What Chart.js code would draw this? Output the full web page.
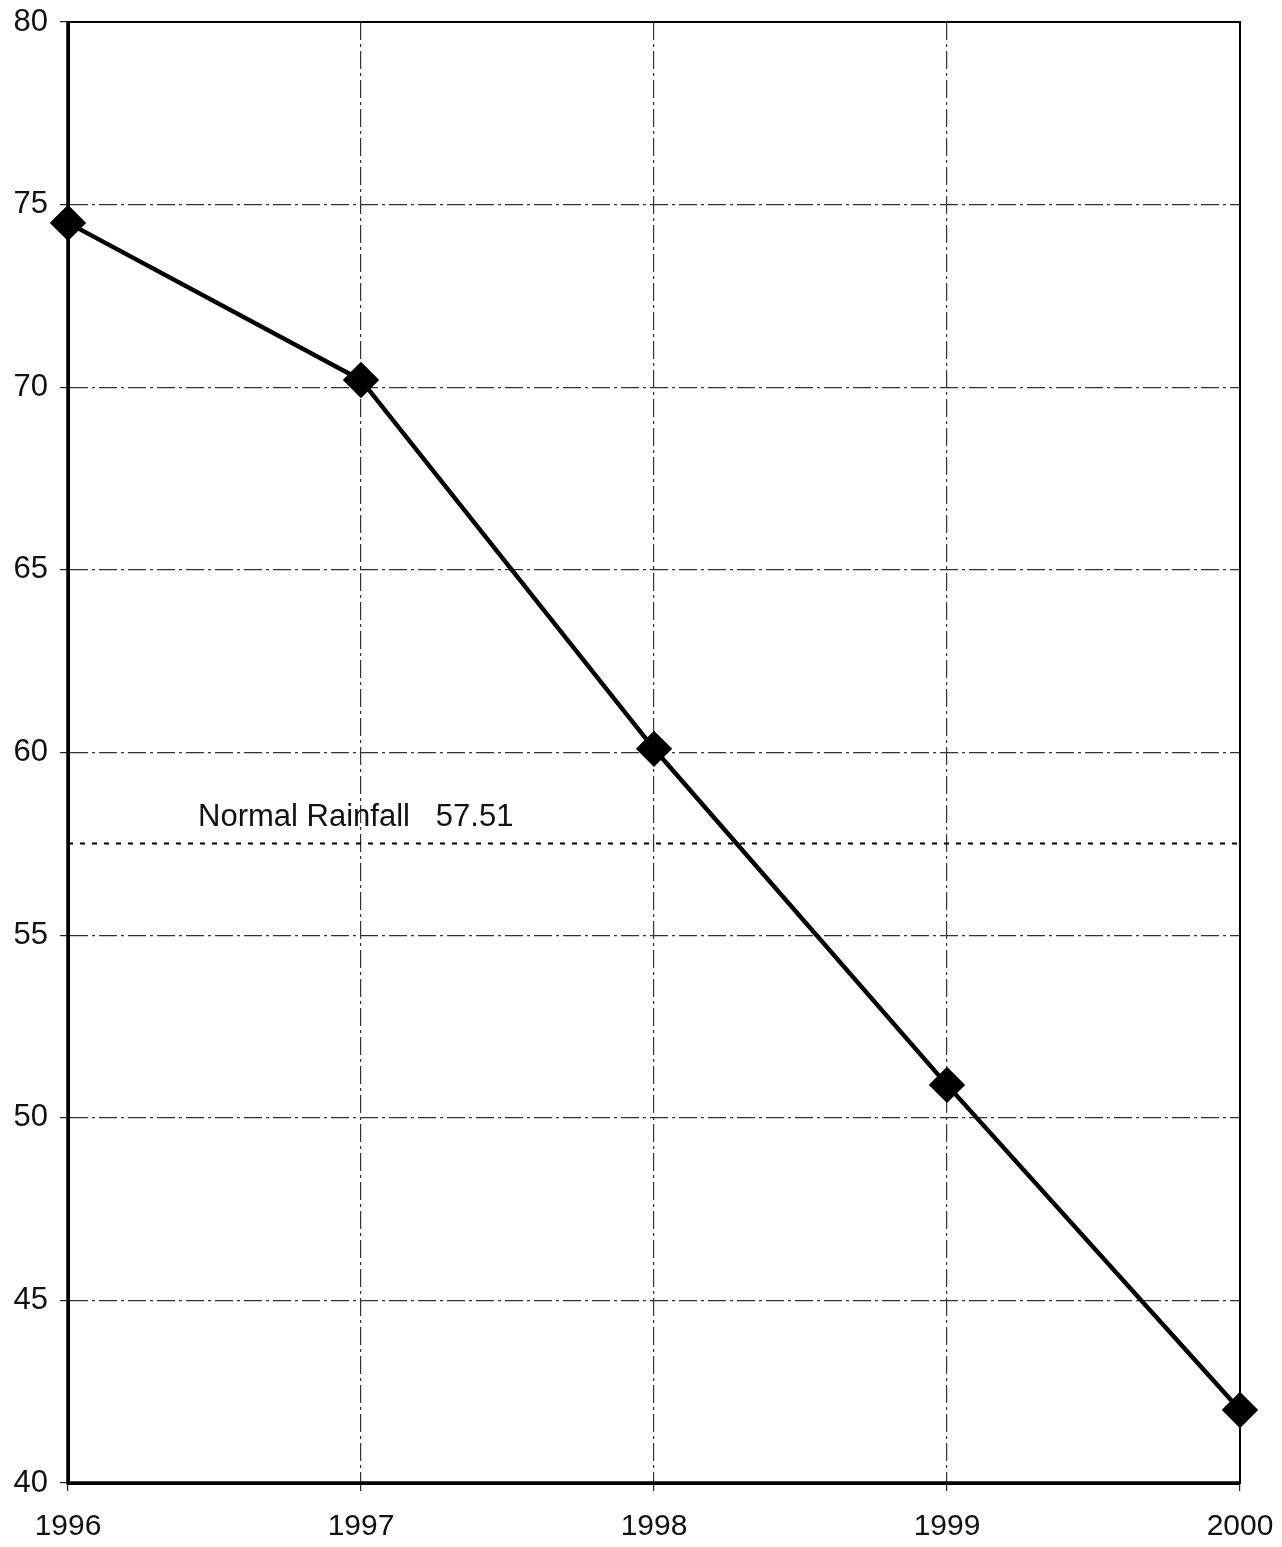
<!DOCTYPE html>
<html>
<head>
<meta charset="utf-8">
<script src="https://cdn.jsdelivr.net/npm/chart.js@4/dist/chart.umd.min.js"></script>
<style>
  html, body { margin: 0; padding: 0; background: #fff; }
  #wrap { width: 1282px; height: 1547px; }
</style>
</head>
<body>
<div id="wrap"><canvas id="rainChart" width="1282" height="1547"></canvas></div>
<script>
const YEARS = ["1996", "1997", "1998", "1999", "2000"];
const RAINFALL = [74.5, 70.2, 60.1, 50.9, 42.0];
const NORMAL_RAINFALL = 57.51;
const NORMAL_LABEL = "Normal Rainfall   57.51";
const Y_MIN = 40, Y_MAX = 80, Y_STEP = 5;

const FONT = "'Liberation Sans', Arial, sans-serif";

// cadre du graphique + libellé de la pluie normale
const framePlugin = {
    id: "frame",
    afterDatasetsDraw(chart) {
        const { ctx, chartArea: a, scales } = chart;
        ctx.save();
        ctx.strokeStyle = "#000";
        ctx.lineWidth = 2;
        ctx.strokeRect(a.left, a.top, a.right - a.left, a.bottom - a.top);
        ctx.lineWidth = 3.5;
        ctx.beginPath();
        ctx.moveTo(a.left, a.top);
        ctx.lineTo(a.left, a.bottom);
        ctx.lineTo(a.right, a.bottom);
        ctx.stroke();

        ctx.fillStyle = "#111";
        ctx.font = "31px " + FONT;
        ctx.textAlign = "left";
        ctx.textBaseline = "bottom";
        const x = scales.x.getPixelForDecimal(0.111);
        const y = scales.y.getPixelForValue(NORMAL_RAINFALL) - 10;
        ctx.fillText(NORMAL_LABEL, x, y);
        ctx.restore();
    },
};

const ctx = document.getElementById("rainChart").getContext("2d");
new Chart(ctx, {
    type: "line",
    data: {
        labels: YEARS,
        datasets: [
            {
                label: "Rainfall",
                data: RAINFALL,
                borderColor: "#000",
                borderWidth: 4.5,
                pointStyle: "rectRot",
                pointRadius: 15,
                pointBackgroundColor: "#000",
                pointBorderColor: "#000",
                tension: 0,
                fill: false,
                order: 1,
            },
            {
                label: "Normal",
                data: YEARS.map(() => NORMAL_RAINFALL),
                borderColor: "#000",
                borderWidth: 2,
                borderDash: [5, 7],
                pointRadius: 0,
                fill: false,
                order: 2,
            },
        ],
    },
    options: {
        responsive: false,
        animation: false,
        layout: { padding: { top: 22, right: 42, left: 0, bottom: 0 } },
        plugins: {
            legend: { display: false },
            tooltip: { enabled: false },
        },
        scales: {
            x: {
                offset: false,
                afterFit: (s) => {
                    s.height = 64;
                    s.paddingLeft = 0;
                    s.paddingRight = 0;
                },
                ticks: {
                    color: "#111",
                    padding: 18,
                    maxRotation: 0,
                    font: { size: 30, family: FONT },
                },
                grid: { color: "#333", lineWidth: 1.2, tickLength: 8, tickColor: "#222" },
                border: { display: true, color: "#000", width: 3, dash: [18, 4, 3, 4] },
            },
            y: {
                min: Y_MIN,
                max: Y_MAX,
                afterFit: (s) => {
                    s.width = 68;
                    s.paddingTop = 0;
                    s.paddingBottom = 0;
                },
                ticks: {
                    stepSize: Y_STEP,
                    color: "#111",
                    padding: 12,
                    font: { size: 31, family: FONT },
                },
                grid: { color: "#333", lineWidth: 1.2, tickLength: 8, tickColor: "#222" },
                border: { display: true, color: "#000", width: 3, dash: [18, 4, 3, 4] },
            },
        },
    },
    plugins: [framePlugin],
});
</script>
</body>
</html>
